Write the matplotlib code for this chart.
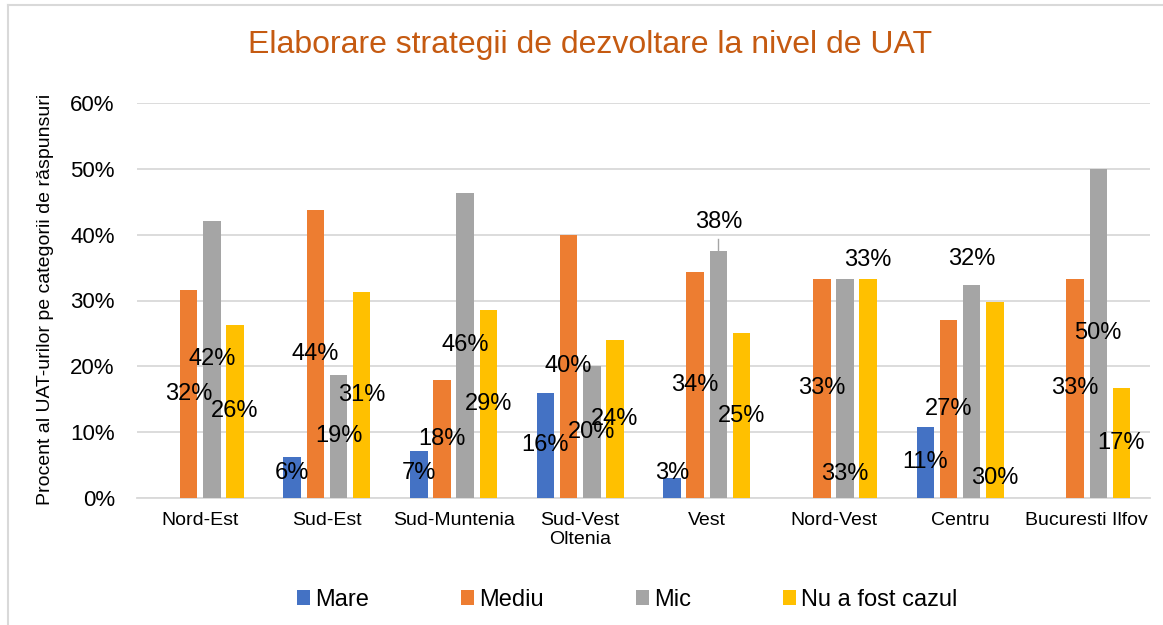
import numpy as np
import matplotlib.pyplot as plt
from matplotlib.patches import Patch
from matplotlib.lines import Line2D

plt.rcParams['font.family'] = ['Liberation Sans', 'DejaVu Sans']

# Data (percent of UAT responses per category)
regions = ['Nord-Est', 'Sud-Est', 'Sud-Muntenia', 'Sud-Vest\nOltenia', 'Vest',
           'Nord-Vest', 'Centru', 'Bucuresti Ilfov']
series = ['Mare', 'Mediu', 'Mic', 'Nu a fost cazul']
mare = [0, 6.25, 7.1, 16.0, 3.1, 0, 10.8, 0]
mediu = [31.6, 43.75, 17.9, 40.0, 34.4, 33.3, 27.0, 33.3]
mic = [42.1, 18.75, 46.4, 20.0, 37.5, 33.3, 32.4, 50.0]
nu_cazul = [26.3, 31.25, 28.6, 24.0, 25.0, 33.3, 29.7, 16.7]
colors = ['#4472C4', '#ED7D31', '#A5A5A5', '#FFC000']

# data label positions that Excel moved away from the bar centre
label_moved = {(2, 4): 41.9, (3, 5): 36.2, (2, 5): 3.7, (2, 6): 36.3, (3, 6): 3.0}

fig = plt.figure(figsize=(11.63, 6.25), dpi=100)
ax = fig.add_axes([137/1163, 1-498/625, 1013/1163, 395/625])

x = np.arange(len(regions))
pitch = 0.183
width = 0.138
all_vals = [mare, mediu, mic, nu_cazul]
for i, vals in enumerate(all_vals):
    xs = x + (i - 1.5) * pitch
    ax.bar(xs, vals, width, color=colors[i], zorder=3, linewidth=0)
    for j, v in enumerate(vals):
        if v == 0:
            continue
        y = label_moved.get((i, j), max(v / 2, 3.8))
        ax.text(xs[j], y, f"{int(v + 0.5)}%", ha='center', va='center',
                fontsize=17, color='black', zorder=5)

# leader line for the moved label on Vest / Mic
xv = x[4] + 0.5 * pitch
ax.plot([xv, xv], [mic[4], 39.3], color='#A5A5A5', lw=1, zorder=4)

ax.set_xlim(-0.5, len(regions) - 0.5)
ax.set_ylim(0, 60)
ax.set_yticks(np.arange(0, 61, 10))
ax.set_yticklabels([f"{t}%" for t in range(0, 61, 10)], fontsize=16)
ax.set_xticks(x)
ax.set_xticklabels(regions, fontsize=14, linespacing=1.15)
ax.tick_params(axis='both', length=0)
ax.tick_params(axis='y', pad=16)
ax.tick_params(axis='x', pad=10)
ax.grid(axis='y', color='#D9D9D9', lw=1.3, zorder=0)
for s in ['top', 'right', 'left']:
    ax.spines[s].set_visible(False)
ax.spines['bottom'].set_color('#D9D9D9')
ax.spines['bottom'].set_linewidth(1.3)

fig.text(590/1163, 1-45/625, 'Elaborare strategii de dezvoltare la nivel de UAT',
         ha='center', va='center', fontsize=23, color='#C55A11')
fig.text(46/1163, 1-299/625, 'Procent al UAT-urilor pe categorii de răspunsuri',
         rotation=90, ha='center', va='center', fontsize=14)

handles = [Patch(facecolor=c, edgecolor='none') for c in colors]
fig.legend(handles, series, loc='center', bbox_to_anchor=(627/1163, 1-600/625),
           ncol=4, frameon=False, fontsize=17, handlelength=0.57, handleheight=0.57,
           handletextpad=0.2, columnspacing=3.9)

# chart border (top and left edges visible in the crop)
fig.add_artist(Line2D([8/1163, 8/1163], [0, 1-5/625], color='#D9D9D9', lw=1.5))
fig.add_artist(Line2D([8/1163, 1], [1-5/625, 1-5/625], color='#D9D9D9', lw=1.5))

fig.savefig('out.png', dpi=100)
